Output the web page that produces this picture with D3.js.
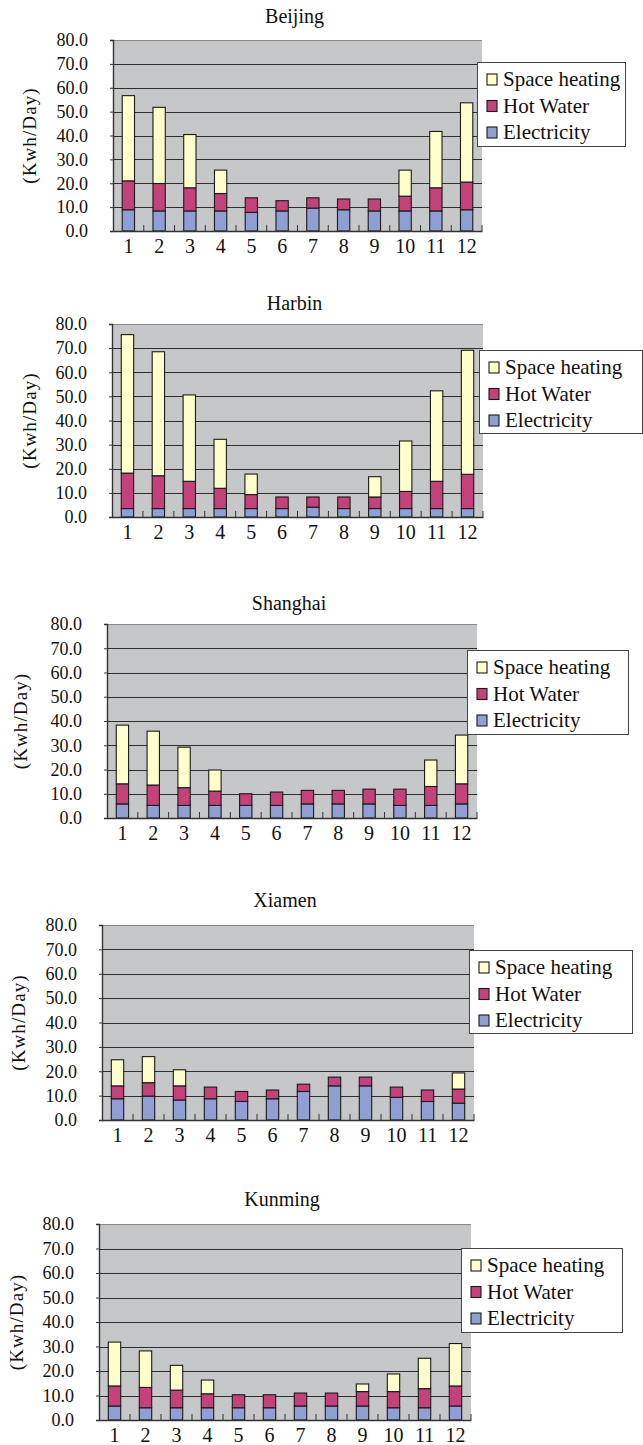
<!DOCTYPE html>
<html>
<head>
<meta charset="utf-8">
<script src="https://cdn.jsdelivr.net/npm/d3@7"></script>
<style>
  html, body { margin: 0; padding: 0; background: #fff; }
  svg { display: block; }
  text { font-family: "Liberation Serif", "DejaVu Serif", serif; fill: #111; }
</style>
</head>
<body>
<svg id="chart" width="643" height="1445"></svg>
<script>
// Months on the x axis
const months = ["1","2","3","4","5","6","7","8","9","10","11","12"];
// Stack order, bottom to top
const seriesKeys = ["Electricity", "Hot Water", "Space heating"];
// Legend order, top to bottom
const legendKeys = ["Space heating", "Hot Water", "Electricity"];
const yTicks = [0, 10, 20, 30, 40, 50, 60, 70, 80];
const yTitle = "(Kwh/Day)";

// Daily energy use per month (kWh/day)
const beijingElectricity  = [8.9, 8.4, 8.4, 8.4, 7.8, 8.4, 9.6, 8.9, 8.4, 8.4, 8.4, 8.9];
const beijingHotWater     = [12.1, 11.5, 9.7, 7.3, 6.1, 4.3, 4.3, 4.5, 5.0, 6.2, 9.7, 11.6];
const beijingSpaceHeating = [35.7, 31.9, 22.3, 9.8, 0, 0, 0, 0, 0, 10.9, 23.6, 33.2];

const harbinElectricity  = [3.5, 3.5, 3.5, 3.5, 3.5, 3.5, 4.1, 3.5, 3.5, 3.5, 3.5, 3.5];
const harbinHotWater     = [14.7, 13.6, 11.3, 8.4, 5.8, 4.8, 4.2, 4.8, 4.8, 7.1, 11.3, 14.2];
const harbinSpaceHeating = [57.4, 51.4, 35.8, 20.3, 8.5, 0, 0, 0, 8.4, 20.9, 37.5, 51.4];

const shanghaiElectricity  = [5.8, 5.2, 5.2, 5.2, 5.2, 5.2, 5.8, 5.8, 5.8, 5.2, 5.2, 5.8];
const shanghaiHotWater     = [8.3, 8.4, 7.3, 5.9, 4.8, 5.5, 5.6, 5.6, 6.1, 6.7, 7.8, 8.3];
const shanghaiSpaceHeating = [24.2, 22.2, 16.7, 8.7, 0, 0, 0, 0, 0, 0, 10.9, 20.1];

const xiamenElectricity  = [8.7, 9.8, 8.2, 8.7, 7.6, 8.7, 11.7, 14.0, 14.0, 9.3, 7.6, 6.9];
const xiamenHotWater     = [5.3, 5.5, 5.8, 4.8, 4.1, 3.6, 3.0, 3.6, 3.6, 4.2, 4.7, 5.8];
const xiamenSpaceHeating = [10.7, 10.7, 6.6, 0, 0, 0, 0, 0, 0, 0, 0, 6.6];

const kunmingElectricity  = [5.7, 5.0, 5.0, 5.0, 5.0, 5.0, 5.7, 5.7, 5.7, 5.0, 5.0, 5.7];
const kunmingHotWater     = [8.2, 8.3, 7.2, 5.7, 5.3, 5.3, 5.3, 5.3, 5.9, 6.6, 7.8, 8.2];
const kunmingSpaceHeating = [17.9, 14.9, 10.1, 5.6, 0, 0, 0, 0, 3.1, 7.2, 12.4, 17.3];

const colors = {
  "Electricity": "#8f9fd3",
  "Hot Water": "#c4417a",
  "Space heating": "#ffffcc"
};

// Panel layout
const panels = [
  { city: "Beijing",  e: beijingElectricity,  h: beijingHotWater,  s: beijingSpaceHeating,
    left: 113, right: 482, top: 40,   bottom: 231,  titleY: 23,   ytX: 29,
    lg: { x: 477, y: 62,   w: 148, h: 84 } },
  { city: "Harbin",   e: harbinElectricity,   h: harbinHotWater,   s: harbinSpaceHeating,
    left: 112, right: 483, top: 324,  bottom: 517,  titleY: 310,  ytX: 29,
    lg: { x: 479, y: 350,  w: 163, h: 83 } },
  { city: "Shanghai", e: shanghaiElectricity, h: shanghaiHotWater, s: shanghaiSpaceHeating,
    left: 107, right: 477, top: 624,  bottom: 818,  titleY: 610,  ytX: 20,
    lg: { x: 467, y: 650,  w: 161, h: 84 } },
  { city: "Xiamen",   e: xiamenElectricity,   h: xiamenHotWater,   s: xiamenSpaceHeating,
    left: 102, right: 474, top: 925,  bottom: 1120, titleY: 907,  ytX: 18,
    lg: { x: 469, y: 950,  w: 163, h: 83 } },
  { city: "Kunming",  e: kunmingElectricity,  h: kunmingHotWater,  s: kunmingSpaceHeating,
    left: 99,  right: 471, top: 1224, bottom: 1420, titleY: 1206, ytX: 16,
    lg: { x: 461, y: 1248, w: 161, h: 84 } }
];

const svg = d3.select("#chart");
const FONT = "Liberation Serif, DejaVu Serif, serif";

panels.forEach(p => {
  const g = svg.append("g");

  const rows = months.map((m, i) => ({
    month: m,
    "Electricity": p.e[i],
    "Hot Water": p.h[i],
    "Space heating": p.s[i]
  }));

  const x = d3.scaleBand().domain(months).range([p.left, p.right]).paddingInner(0).paddingOuter(0);
  const y = d3.scaleLinear().domain([0, 80]).range([p.bottom, p.top]);
  const barW = x.bandwidth() * 0.4;

  // plot area
  g.append("rect")
    .attr("x", p.left).attr("y", p.top)
    .attr("width", p.right - p.left).attr("height", p.bottom - p.top)
    .attr("fill", "#c6c7c9");

  // gridlines
  g.selectAll("line.grid").data(yTicks.filter(t => t > 0)).join("line")
    .attr("x1", p.left).attr("x2", p.right)
    .attr("y1", d => Math.round(y(d)) + 0.5).attr("y2", d => Math.round(y(d)) + 0.5)
    .attr("stroke", d => d === 80 ? "#8a8a8a" : "#2e2e2e")
    .attr("stroke-width", 1);

  // title
  g.append("text")
    .attr("x", (p.left + p.right) / 2 - 3).attr("y", p.titleY)
    .attr("text-anchor", "middle")
    .attr("font-size", 20)
    .text(p.city);

  // y axis title
  g.append("text")
    .attr("transform", `translate(${p.ytX},${(p.top + p.bottom) / 2}) rotate(-90)`)
    .attr("text-anchor", "middle")
    .attr("dominant-baseline", "central")
    .attr("font-size", 19)
    .attr("letter-spacing", 1.1)
    .text(yTitle);

  // stacked bars
  const stacked = d3.stack().keys(seriesKeys)(rows);
  stacked.forEach(layer => {
    g.append("g").selectAll("rect")
      .data(layer.filter(d => d[1] - d[0] > 0))
      .join("rect")
      .attr("x", d => x(d.data.month) + (x.bandwidth() - barW) / 2)
      .attr("y", d => y(d[1]))
      .attr("width", barW)
      .attr("height", d => y(d[0]) - y(d[1]))
      .attr("fill", colors[layer.key])
      .attr("stroke", "#1a1a1a")
      .attr("stroke-width", 1.1);
  });

  // y axis
  const yAxis = d3.axisLeft(y).tickValues(yTicks).tickSize(3).tickPadding(22)
    .tickFormat(d3.format(".1f"));
  const ya = g.append("g").attr("transform", `translate(${p.left},0)`).call(yAxis);
  ya.select(".domain").attr("stroke", "#333").attr("stroke-width", 1.4);
  ya.selectAll(".tick line").attr("stroke", "#333");
  ya.selectAll(".tick text")
    .attr("font-family", FONT)
    .attr("font-size", 18).attr("fill", "#111");

  // x axis: labels below, category boundary marks pointing up
  const xAxis = d3.axisBottom(x).tickSize(0).tickPadding(8);
  const xa = g.append("g").attr("transform", `translate(0,${p.bottom})`).call(xAxis);
  xa.select(".domain").attr("stroke", "#333").attr("stroke-width", 1.4);
  xa.selectAll(".tick text")
    .attr("font-family", FONT)
    .attr("font-size", 20).attr("fill", "#111");

  g.selectAll("line.cat").data(months.slice(1).concat([null])).join("line")
    .attr("x1", d => d === null ? p.right : x(d))
    .attr("x2", d => d === null ? p.right : x(d))
    .attr("y1", p.bottom).attr("y2", p.bottom - 6)
    .attr("stroke", "#333").attr("stroke-width", 1);

  // legend
  const lg = g.append("g").attr("transform", `translate(${p.lg.x},${p.lg.y})`);
  lg.append("rect")
    .attr("x", 0.5).attr("y", 0.5)
    .attr("width", p.lg.w).attr("height", p.lg.h)
    .attr("fill", "#fff").attr("stroke", "#444").attr("stroke-width", 1);
  legendKeys.forEach((k, i) => {
    const cy = 17 + i * 26.5;
    lg.append("rect")
      .attr("x", 10).attr("y", cy - 5)
      .attr("width", 10).attr("height", 11)
      .attr("fill", colors[k]).attr("stroke", "#1a1a1a").attr("stroke-width", 1.1);
    lg.append("text")
      .attr("x", 26).attr("y", cy)
      .attr("dominant-baseline", "central")
      .attr("font-size", 21)
      .text(k);
  });
});
</script>
</body>
</html>
